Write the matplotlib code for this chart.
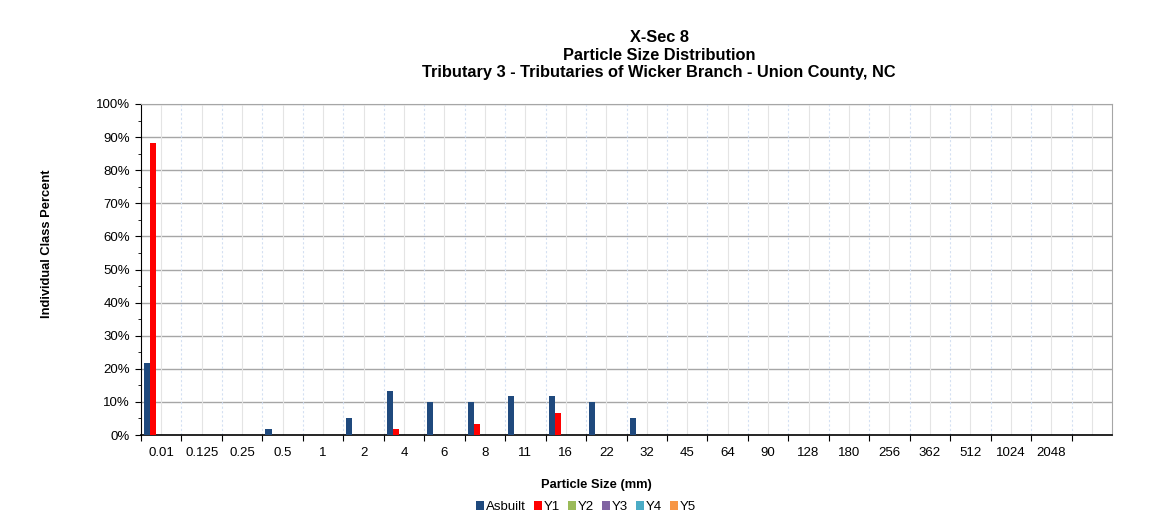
import matplotlib
matplotlib.use("Agg")
import matplotlib.pyplot as plt
import numpy as np
from matplotlib.ticker import FuncFormatter, MultipleLocator

plt.rcParams['font.family'] = ['Liberation Sans', 'DejaVu Sans']

sizes = ["0.01", "0.125", "0.25", "0.5", "1", "2", "4", "6", "8", "11", "16", "22",
         "32", "45", "64", "90", "128", "180", "256", "362", "512", "1024", "2048", ""]

series_names = ["Asbuilt", "Y1", "Y2", "Y3", "Y4", "Y5"]
series_colors = ["#1F497D", "#FF0000", "#9BBB59", "#8064A2", "#4BACC6", "#F79646"]

asbuilt = [21.7, 0, 0, 1.7, 0, 5.0, 13.3, 10.0, 10.0, 11.7, 11.7, 10.0,
           5.0, 0, 0, 0, 0, 0, 0, 0, 0, 0, 0, 0]
y1 = [88.3, 0, 0, 0, 0, 0, 1.7, 0, 3.3, 0, 6.7, 0,
      0, 0, 0, 0, 0, 0, 0, 0, 0, 0, 0, 0]
y2 = [0] * 24
y3 = [0] * 24
y4 = [0] * 24
y5 = [0] * 24

values = [asbuilt, y1, y2, y3, y4, y5]

fig = plt.figure(figsize=(11.52, 5.27), dpi=100)
ax = fig.add_axes([141 / 1152, 1 - 435 / 527, (1112 - 141) / 1152, (435 - 104) / 527])

n = len(sizes)
idx = np.arange(n)
w = 0.152
for k, (name, vals, col) in enumerate(zip(series_names, values, series_colors)):
    ax.bar(idx + 0.075 + k * w, vals, width=w, align='edge', color=col,
           linewidth=0, label=name, zorder=3)

ax.set_xlim(0, n)
ax.set_ylim(0, 100)

# category boundaries carry the ticks, labels sit in the middle
ax.set_xticks(idx)
ax.set_xticklabels([])
ax.set_xticks(idx + 0.5, minor=True)
ax.set_xticklabels(sizes, minor=True, fontsize=9.5)
ax.tick_params(axis='x', which='major', length=4, direction='out', color='black')
ax.tick_params(axis='x', which='minor', length=0, pad=9)

ax.yaxis.set_major_locator(MultipleLocator(10))
ax.yaxis.set_minor_locator(MultipleLocator(5))
ax.yaxis.set_major_formatter(FuncFormatter(lambda v, p: f"{v:.0f}%"))
ax.tick_params(axis='y', which='major', length=4, labelsize=9.5, pad=4)
ax.tick_params(axis='y', which='minor', length=2)

# grid
for v in range(10, 101, 10):
    ax.axhline(v, color='#a6a6a6', lw=1, zorder=1)
for i in range(1, n):
    ax.axvline(i, color='#d4e0f2', lw=0.8, ls=(0, (2, 2)), zorder=1)
for i in range(n):
    ax.axvline(i + 0.5, color='#e4e4e4', lw=0.8, zorder=1)

ax.spines['left'].set_color('black')
ax.spines['bottom'].set_color('black')
ax.spines['bottom'].set_linewidth(1.2)
ax.spines['top'].set_color('#a6a6a6')
ax.spines['right'].set_color('#a6a6a6')

title_lines = ["X-Sec 8", "Particle Size Distribution",
               "Tributary 3 - Tributaries of Wicker Branch - Union County, NC"]
for line, ypix in zip(title_lines, [38, 55, 73]):
    fig.text(659 / 1152, 1 - ypix / 527, line, ha='center', va='center',
             fontsize=11.8, fontweight='bold')

fig.text(47 / 1152, 1 - 244 / 527, "Individual Class Percent", rotation=90,
         ha='center', va='center', fontsize=9.3, fontweight='bold')
fig.text(596 / 1152, 1 - 485 / 527, "Particle Size (mm)", ha='center', va='center',
         fontsize=9.3, fontweight='bold')

fig.legend(loc='center', bbox_to_anchor=(586 / 1152, 1 - 507 / 527), ncol=6,
           frameon=False, fontsize=9.5, handlelength=0.6, handleheight=0.6,
           handletextpad=0.15, columnspacing=0.6)

fig.savefig("out.png", dpi=100)
